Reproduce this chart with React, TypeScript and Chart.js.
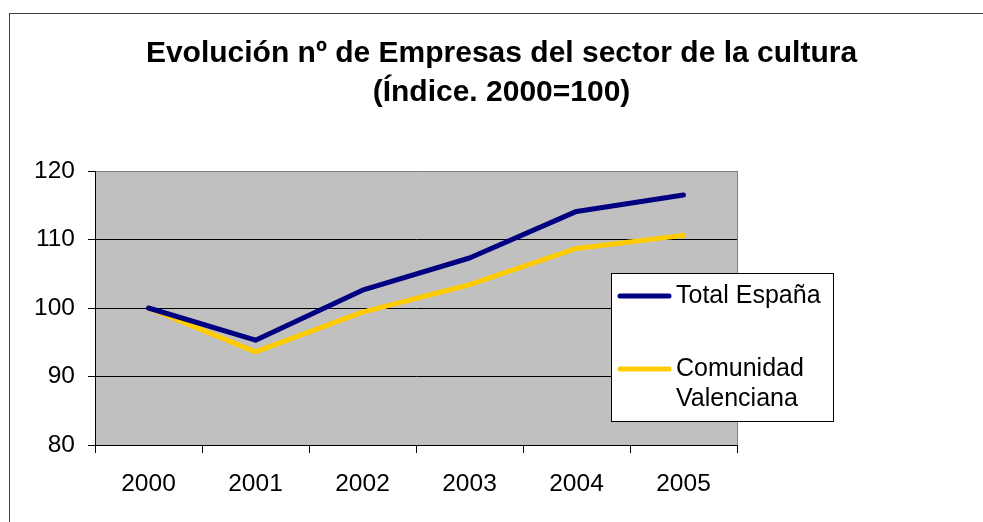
import React, { useEffect, useRef } from "react";
import { Chart, registerables } from "chart.js";

Chart.register(...registerables);

const years = ["2000", "2001", "2002", "2003", "2004", "2005"];
const totalEspana = [100, 95.3, 102.6, 107.3, 114.1, 116.5];
const comunidadValenciana = [100, 93.6, 99.4, 103.4, 108.7, 110.6];
const seriesLabels = ["Total España", "Comunidad Valenciana"];
const seriesColors = ["#000080", "#FFCC00"];
const yMin = 80;
const yMax = 120;
const yStep = 10;
const titleLines = ["Evolución nº de Empresas del sector de la cultura", "(Índice. 2000=100)"];

const FONT = "'Liberation Sans', Arial, Helvetica, sans-serif";

const decorPlugin = {
  id: "decor",
  beforeDraw(chart: any) {
    const { ctx, chartArea } = chart;
    ctx.save();
    ctx.fillStyle = "#FFFFFF";
    ctx.fillRect(0, 0, chart.width, chart.height);
    ctx.fillStyle = "#C0C0C0";
    ctx.fillRect(chartArea.left, chartArea.top, chartArea.right - chartArea.left, chartArea.bottom - chartArea.top);
    ctx.restore();
  },
  afterDraw(chart: any) {
    const { ctx, chartArea } = chart;
    ctx.save();
    // outer chart border (left and top visible)
    ctx.strokeStyle = "#404040";
    ctx.lineWidth = 1;
    ctx.strokeRect(9.5, 13.5, chart.width + 20, chart.height + 20);
    // right plot border
    ctx.strokeStyle = "#808080";
    ctx.beginPath();
    ctx.moveTo(Math.round(chartArea.right) + 0.5, chartArea.top);
    ctx.lineTo(Math.round(chartArea.right) + 0.5, chartArea.bottom);
    ctx.stroke();

    // legend
    const lx = 611, ly = 273, lw = 222, lh = 148;
    ctx.fillStyle = "#FFFFFF";
    ctx.fillRect(lx, ly, lw, lh);
    ctx.strokeStyle = "#000000";
    ctx.strokeRect(lx + 0.5, ly + 0.5, lw, lh);
    ctx.font = `25px ${FONT}`;
    ctx.textBaseline = "middle";
    ctx.fillStyle = "#000000";
    const textX = 676;
    const maxW = lx + lw - textX - 4;
    const entryY = [296, 369];
    chart.data.datasets.forEach((ds: any, i: number) => {
      const words = String(ds.label).split(" ");
      const lines: string[] = [];
      let cur = "";
      words.forEach((w) => {
        const t = cur ? cur + " " + w : w;
        if (ctx.measureText(t).width > maxW && cur) {
          lines.push(cur);
          cur = w;
        } else cur = t;
      });
      if (cur) lines.push(cur);
      const y0 = entryY[i];
      ctx.strokeStyle = ds.borderColor;
      ctx.lineWidth = 5;
      ctx.lineCap = "round";
      ctx.beginPath();
      ctx.moveTo(620, y0);
      ctx.lineTo(669, y0);
      ctx.stroke();
      ctx.fillStyle = "#000000";
      lines.forEach((ln, k) => ctx.fillText(ln, textX, y0 + k * 30));
    });
    ctx.restore();
  },
};

export default function App() {
  const ref = useRef<HTMLCanvasElement | null>(null);
  useEffect(() => {
    if (!ref.current) return;
    const chart = new Chart(ref.current, {
      type: "line",
      data: {
        labels: years,
        datasets: [
          {
            label: seriesLabels[0],
            data: totalEspana,
            borderColor: seriesColors[0],
            backgroundColor: seriesColors[0],
            borderWidth: 5,
            borderCapStyle: "round",
            borderJoinStyle: "round",
            pointRadius: 0,
            tension: 0,
          },
          {
            label: seriesLabels[1],
            data: comunidadValenciana,
            borderColor: seriesColors[1],
            backgroundColor: seriesColors[1],
            borderWidth: 5,
            borderCapStyle: "round",
            borderJoinStyle: "round",
            pointRadius: 0,
            tension: 0,
          },
        ],
      },
      options: {
        animation: false,
        responsive: false,
        devicePixelRatio: 1,
        layout: { padding: { left: 20, right: 0, top: 0, bottom: 0 } },
        plugins: {
          legend: { display: false },
          tooltip: { enabled: false },
          title: {
            display: true,
            text: titleLines,
            color: "#000000",
            font: { family: FONT, size: 30, weight: "bold", lineHeight: 1.28 },
            padding: { top: 35, bottom: 59.2 },
          },
        },
        scales: {
          x: {
            type: "category",
            offset: true,
            grid: {
              offset: true,
              drawOnChartArea: false,
              drawTicks: true,
              tickLength: 8,
              tickColor: "#000000",
              color: "#000000",
            },
            border: { display: true, color: "#000000", width: 1 },
            ticks: {
              color: "#000000",
              font: { family: FONT, size: 24.5 },
              padding: 17,
              maxRotation: 0,
              autoSkip: false,
            },
            afterFit(scale: any) {
              scale.height = 77;
            },
          },
          y: {
            type: "linear",
            position: "left",
            min: yMin,
            max: yMax,
            grid: {
              color: (c: any) => (c.tick && c.tick.value === yMax ? "#808080" : "#000000"),
              tickColor: "#000000",
              tickLength: 7,
              lineWidth: 1,
            },
            border: { display: true, color: "#000000", width: 1 },
            ticks: {
              stepSize: yStep,
              color: "#000000",
              font: { family: FONT, size: 24.5 },
              padding: 13,
            },
            afterFit(scale: any) {
              scale.width = 75;
            },
          },
          yRight: {
            type: "linear",
            position: "right",
            display: true,
            grid: { display: false },
            border: { display: false },
            ticks: { display: false },
            afterFit(scale: any) {
              scale.width = 246;
            },
          },
        },
      },
      plugins: [decorPlugin],
    });
    return () => chart.destroy();
  }, []);
  return (
    <div style={{ position: "fixed", left: 0, top: 0, width: 983, height: 522 }}>
      <canvas ref={ref} width={983} height={522} style={{ display: "block" }} />
    </div>
  );
}
